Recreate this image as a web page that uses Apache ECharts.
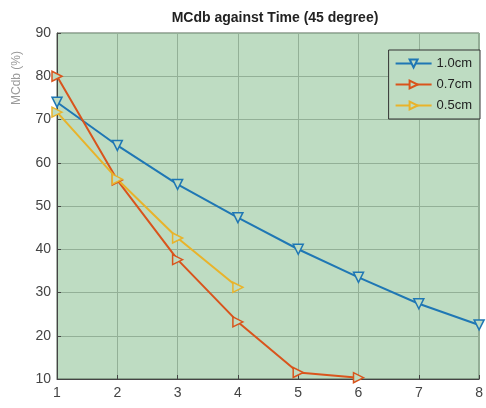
<!DOCTYPE html>
<html>
<head>
<meta charset="utf-8">
<script src="https://cdn.jsdelivr.net/npm/echarts@6/dist/echarts.min.js"></script>
<style>
  html, body { margin: 0; padding: 0; background: #fff; }
  #chart { width: 486px; height: 408px; }
</style>
</head>
<body>
<div id="chart"></div>
<script>
// data
const time = [1, 2, 3, 4, 5, 6, 7, 8]
const mc10 = [74, 64, 55, 47.3, 40, 33.5, 27.4, 22.5]
const mc07 = [80, 56, 37.6, 23.2, 11.5, 10.3]
const mc05 = [71.7, 56.2, 42.6, 31.2]
const seriesNames = ['1.0cm', '0.7cm', '0.5cm']

const plotBg = '#bedcc2'

function pairs(vals) {
  return vals.map((v, i) => [time[i], v])
}

function lineSeries(name, vals, color, rotate) {
  return {
    name: name,
    type: 'line',
    data: pairs(vals),
    symbol: 'triangle',
    symbolSize: 10,
    symbolRotate: rotate,
    showAllSymbol: true,
    lineStyle: { color: color, width: 2 },
    itemStyle: { color: plotBg, borderColor: color, borderWidth: 1.5 },
    emphasis: { disabled: true }
  }
}

const chart = echarts.init(document.getElementById('chart'))
const option = {
  animation: false,
  backgroundColor: '#fff',
  textStyle: { fontFamily: 'Liberation Sans' },
  title: {
    text: 'MCdb against Time (45 degree)',
    left: 270,
    textAlign: 'center',
    top: 6,
    textStyle: { fontSize: 14, fontWeight: 'bold', color: '#222' }
  },
  graphic: [{
    type: 'text',
    x: 17,
    y: 78,
    rotation: Math.PI / 2,
    style: {
      text: 'MCdb (%)',
      fill: '#9a9a9a',
      fontSize: 12,
      align: 'center',
      verticalAlign: 'middle'
    }
  }],
  legend: {
    data: seriesNames,
    right: 6,
    top: 50,
    orient: 'vertical',
    itemWidth: 36,
    itemHeight: 10,
    itemGap: 8,
    padding: [7, 8, 7, 6],
    backgroundColor: plotBg,
    borderColor: '#333',
    borderWidth: 1,
    borderRadius: 0,
    textStyle: { fontSize: 13, color: '#222' }
  },
  grid: {
    left: 57,
    right: 1,
    top: 33,
    bottom: 29,
    show: true,
    backgroundColor: plotBg,
    borderColor: '#556655',
    borderWidth: 1
  },
  xAxis: {
    type: 'value',
    min: 1,
    max: 8,
    interval: 1,
    axisLine: { lineStyle: { color: '#444' } },
    axisTick: { inside: true, length: 4, lineStyle: { color: '#444' } },
    axisLabel: { fontSize: 14, color: '#444', margin: 7 },
    splitLine: { lineStyle: { color: '#93b097', width: 1 } }
  },
  yAxis: {
    type: 'value',
    min: 10,
    max: 90,
    interval: 10,
    axisLine: { show: true, lineStyle: { color: '#444' } },
    axisTick: { inside: true, length: 4, lineStyle: { color: '#444' } },
    axisLabel: { fontSize: 14, color: '#444', margin: 6 },
    splitLine: { lineStyle: { color: '#93b097', width: 1 } }
  },
  series: [
    lineSeries(seriesNames[0], mc10, '#1f77b4', 180),
    lineSeries(seriesNames[1], mc07, '#d9541c', -90),
    lineSeries(seriesNames[2], mc05, '#e9b32a', -90)
  ]
}
chart.setOption(option)
</script>
</body>
</html>
